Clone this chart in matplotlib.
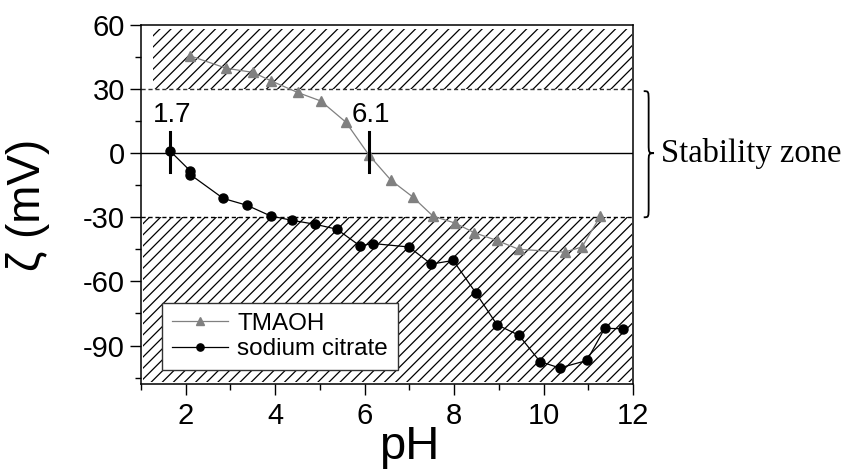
import numpy as np
import matplotlib.pyplot as plt
from matplotlib.path import Path
from matplotlib.patches import PathPatch
from matplotlib.ticker import MultipleLocator

plt.rcParams['font.family'] = ['Liberation Sans', 'DejaVu Sans']
plt.rcParams['hatch.linewidth'] = 0.9
plt.rcParams['axes.unicode_minus'] = False

# TMAOH
ph_tmaoh = [2.10, 2.91, 3.50, 3.90, 4.50, 5.02, 5.58, 6.10, 6.59, 7.07, 7.53,
            8.02, 8.45, 8.95, 9.45, 10.47, 10.86, 11.27]
zeta_tmaoh = [45.5, 39.7, 37.8, 33.9, 28.4, 24.4, 14.5, -1.0, -12.7, -20.4, -29.5,
              -32.7, -37.2, -40.8, -45.0, -46.3, -43.9, -29.5]

# sodium citrate
ph_citrate = [1.65, 2.10, 2.10, 2.84, 3.37, 3.90, 4.37, 4.90, 5.38, 5.89, 6.19,
              6.99, 7.49, 7.98, 8.49, 8.96, 9.45, 9.92, 10.36, 10.97, 11.37, 11.77]
zeta_citrate = [1.0, -8.3, -10.0, -21.2, -24.4, -29.4, -31.4, -33.3, -35.6, -43.3, -42.3,
                -43.9, -51.9, -50.2, -65.5, -80.3, -85.2, -97.5, -100.5, -97.0, -81.9, -82.2]

# isoelectric points
iep_x = [1.65, 6.1]
iep_labels = ["1.7", "6.1"]

fig = plt.figure(figsize=(8.45, 4.7), dpi=100)
ax = fig.add_axes([0.1669, 0.183, 0.5822, 0.764])

# hatched instability zones
ax.fill_between([1.26, 11.97], 30, 58, facecolor='none', edgecolor='black',
                hatch='///', linewidth=0, zorder=1)
ax.fill_between([1.04, 11.97], -107, -30, facecolor='none', edgecolor='black',
                hatch='///', linewidth=0, zorder=1)

ax.axhline(30, color='#333333', ls=(0, (3, 2)), lw=1.0, zorder=2)
ax.axhline(-30, color='black', ls=(0, (3, 2)), lw=1.0, zorder=2)
ax.axhline(0, color='black', lw=1.0, zorder=2)

ax.plot(ph_tmaoh, zeta_tmaoh, color='#808080', lw=0.9, marker='^', ms=7,
        mec='#808080', mfc='#808080', label='TMAOH', zorder=3)
ax.plot(ph_citrate, zeta_citrate, color='black', lw=0.9, marker='o', ms=6.5,
        label='sodium citrate', zorder=4)

for x, lab in zip(iep_x, iep_labels):
    ax.plot([x, x], [10, -9], color='black', lw=2.2, zorder=5)
    ax.text(x + 0.05, 12, lab, fontsize=20, ha='center', va='bottom')

# stability zone brace
x0, x1, xt = 12.24, 12.35, 12.47
verts = [(x0, 29), (x1, 29), (x1, 29), (x1, 24),
         (x1, 4),
         (x1, 0.5), (x1, 0), (xt, 0),
         (x1, 0), (x1, -0.5), (x1, -4),
         (x1, -25),
         (x1, -30), (x1, -30), (x0, -30)]
codes = [Path.MOVETO, Path.CURVE4, Path.CURVE4, Path.CURVE4,
         Path.LINETO,
         Path.CURVE4, Path.CURVE4, Path.CURVE4,
         Path.CURVE4, Path.CURVE4, Path.CURVE4,
         Path.LINETO,
         Path.CURVE4, Path.CURVE4, Path.CURVE4]
ax.add_patch(PathPatch(Path(verts, codes), facecolor='none', edgecolor='black',
                       lw=1.3, clip_on=False))
ax.text(12.62, 0, "Stability zone", fontsize=23.5, family='Liberation Serif',
        ha='left', va='center', clip_on=False)

ax.set_xlim(1, 12)
ax.set_ylim(-108, 60)
ax.xaxis.set_major_locator(MultipleLocator(2))
ax.xaxis.set_minor_locator(MultipleLocator(1))
ax.yaxis.set_major_locator(MultipleLocator(30))
ax.yaxis.set_minor_locator(MultipleLocator(15))
ax.tick_params(which='major', direction='out', length=8, width=1, labelsize=21)
ax.tick_params(axis='x', which='major', pad=5)
ax.tick_params(which='minor', direction='out', length=4, width=1)
for s in ax.spines.values():
    s.set_linewidth(1.1)

ax.set_xlabel("pH", fontsize=34)
ax.xaxis.set_label_coords(0.545, -0.115)
ax.set_ylabel("ζ (mV)", fontsize=33)
ax.yaxis.set_label_coords(-0.185, 0.5)

leg = ax.legend(loc='lower left', bbox_to_anchor=(0.018, 0.005), fontsize=17.5,
                frameon=True, fancybox=False, edgecolor='#333333',
                framealpha=1, handlelength=2.3, borderpad=0.4, labelspacing=0.15,
                handletextpad=0.4, markerscale=0.8)
leg.get_frame().set_linewidth(1.0)
leg.set_zorder(6)

fig.savefig("out.png", dpi=100)
